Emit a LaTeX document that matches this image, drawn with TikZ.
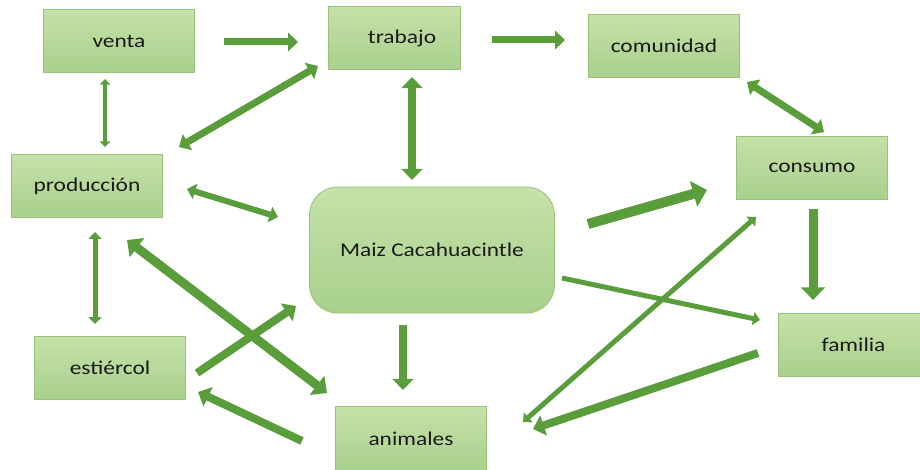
\documentclass[tikz,border=0pt]{standalone}
\usepackage{fontspec}
\setmainfont{Carlito}[FakeStretch=1.2]
\usetikzlibrary{arrows.meta}
\definecolor{boxtop}{HTML}{C6E1A9}
\definecolor{boxbot}{HTML}{A8D08B}
\definecolor{boxline}{HTML}{97C47A}
\definecolor{arrowc}{HTML}{5A9E3C}
\definecolor{txt}{HTML}{1A1A1A}
\tikzset{
  box/.style={rectangle, draw=boxline, line width=0.8pt, top color=boxtop, bottom color=boxbot,
    minimum width=151pt, minimum height=63pt, inner sep=0pt, text=txt,
    font=\fontsize{19.5}{22}\selectfont},
  ar/.style={draw=arrowc, line width=#1, -{Triangle[length=0pt 1.4, width=0pt 2.6]}},
  dar/.style={draw=arrowc, line width=#1, {Triangle[length=0pt 1.4, width=0pt 2.6]}-{Triangle[length=0pt 1.4, width=0pt 2.6]}}
}
\begin{document}
\begin{tikzpicture}[x=1pt,y=-1pt]
\useasboundingbox (0,0) rectangle (920,470);
% nodes
\node[box] (venta) at (119,41) {venta};
\node[box, minimum width=132pt] (trabajo) at (394,38) {\hspace{16pt}trabajo};
\node[box] (comunidad) at (664,46) {comunidad};
\node[box] (consumo) at (812,168) {consumo};
\node[box] (produccion) at (87,186) {producción};
\node[box, rounded corners=28pt, minimum width=245pt, minimum height=126pt] (maiz) at (432,250) {Maiz Cacahuacintle};
\node[box] (estiercol) at (110,368) {estiércol};
\node[box, minimum height=66pt] (animales) at (411,439) {animales};
\node[box, minimum width=145pt] (familia) at (851,345) {\hspace{5pt}familia};
% arrow end points
\coordinate (a1s) at (224,42);  \coordinate (a1e) at (298,42);
\coordinate (a2s) at (492,40);  \coordinate (a2e) at (565,40);
\coordinate (a3s) at (105,79);  \coordinate (a3e) at (105,147);
\coordinate (a4s) at (179,147); \coordinate (a4e) at (318,66);
\coordinate (a5s) at (412,77);  \coordinate (a5e) at (412,180);
\coordinate (a6s) at (187,189); \coordinate (a6e) at (278,217);
\coordinate (a7s) at (747,82);  \coordinate (a7e) at (824,132);
\coordinate (a8s) at (588,224); \coordinate (a8e) at (707,190);
\coordinate (a9s) at (95,232);  \coordinate (a9e) at (95,324);
\coordinate (a10s) at (127,240); \coordinate (a10e) at (327,393);
\coordinate (a11s) at (197,373); \coordinate (a11e) at (296,306);
\coordinate (a12s) at (403,325); \coordinate (a12e) at (403,390);
\coordinate (a13s) at (302,441); \coordinate (a13e) at (198,392);
\coordinate (a14s) at (562,278); \coordinate (a14e) at (760,320);
\coordinate (a15s) at (813,209); \coordinate (a15e) at (813,300);
\coordinate (a16s) at (758,353); \coordinate (a16e) at (533,429);
\coordinate (a17s) at (756,217); \coordinate (a17e) at (523,422);
% arrows
\draw[ar=7pt] (a1s) -- (a1e);
\draw[ar=7pt] (a2s) -- (a2e);
\draw[dar=4pt] (a3s) -- (a3e);
\draw[dar=7pt] (a4s) -- (a4e);
\draw[dar=8pt] (a5s) -- (a5e);
\draw[dar=6pt] (a6s) -- (a6e);
\draw[dar=7pt] (a7s) -- (a7e);
\draw[ar=10pt] (a8s) -- (a8e);
\draw[dar=5pt] (a9s) -- (a9e);
\draw[dar=9pt] (a10s) -- (a10e);
\draw[ar=8pt] (a11s) -- (a11e);
\draw[ar=8pt] (a12s) -- (a12e);
\draw[ar=8pt] (a13s) -- (a13e);
\draw[ar=5pt] (a14s) -- (a14e);
\draw[ar=9pt] (a15s) -- (a15e);
\draw[ar=8pt] (a16s) -- (a16e);
\draw[dar=5pt] (a17s) -- (a17e);
\end{tikzpicture}
\end{document}
